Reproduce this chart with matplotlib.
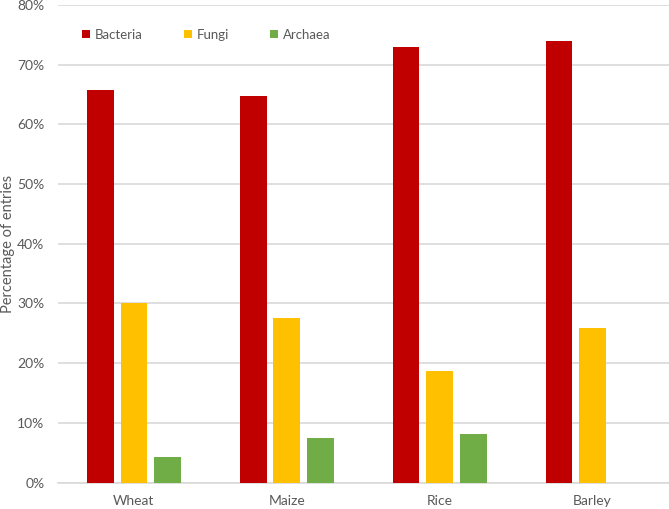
import numpy as np
import matplotlib.pyplot as plt
from matplotlib.ticker import PercentFormatter

# values (%)
crops = ['Wheat', 'Maize', 'Rice', 'Barley']
bacteria = [65.7, 64.8, 73.0, 74.0]
fungi = [30.0, 27.6, 18.7, 25.9]
archaea = [4.2, 7.5, 8.1, 0.0]

plt.rcParams['font.family'] = ['Lato', 'DejaVu Sans']
text_col = '#595959'
grid_col = '#d9d9d9'

fig = plt.figure(figsize=(6.69, 5.09), dpi=100)
ax = fig.add_axes([0.086, 0.052, 0.914, 0.938])

x = np.arange(len(crops))
w = 0.175
step = 0.22
ax.bar(x - step, bacteria, w, color='#C00000', label='Bacteria', zorder=3)
ax.bar(x, fungi, w, color='#FFC000', label='Fungi', zorder=3)
ax.bar(x + step, archaea, w, color='#70AD47', label='Archaea', zorder=3)

ax.set_xlim(-0.5, len(crops) - 0.5)
ax.set_ylim(0, 80)
ax.set_yticks(np.arange(0, 81, 10))
ax.yaxis.set_major_formatter(PercentFormatter(decimals=0))
ax.set_xticks(x)
ax.set_xticklabels(crops)
ax.tick_params(length=0, colors=text_col, labelsize=10)
ax.tick_params(axis='x', pad=9)
ax.tick_params(axis='y', pad=9.5)

ax.grid(axis='y', color=grid_col, linewidth=1.2, zorder=0)
for s in ['top', 'right', 'left']:
    ax.spines[s].set_visible(False)
ax.spines['bottom'].set_color(grid_col)
ax.spines['bottom'].set_linewidth(1.2)

ax.set_ylabel('Percentage of entries', color=text_col, fontsize=10.5)
ax.yaxis.set_label_coords(-0.07, 0.5)

leg = ax.legend(loc='upper left', bbox_to_anchor=(0.02, 0.975), ncol=3,
                frameon=False, fontsize=9.5, handlelength=0.6, handleheight=0.6,
                handletextpad=0.4, columnspacing=3.1)
for t in leg.get_texts():
    t.set_color(text_col)

plt.savefig('out.png', dpi=100)
